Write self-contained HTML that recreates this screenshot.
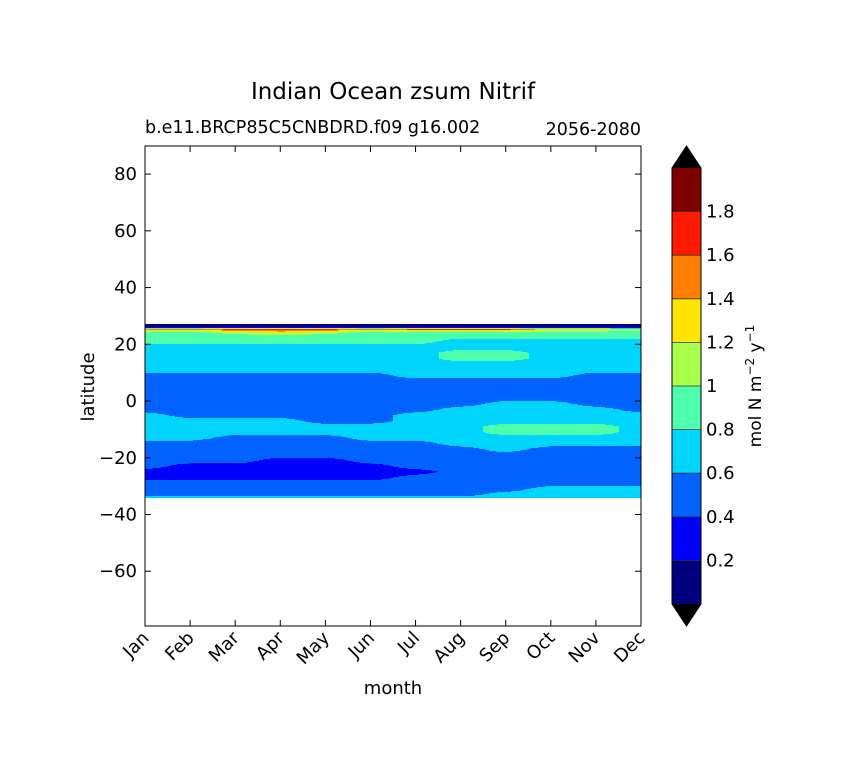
<!DOCTYPE html>
<html><head><meta charset="utf-8"><style>
html,body{margin:0;padding:0;background:#fff;}
svg text{font-family:"DejaVu Sans","Liberation Sans",sans-serif;fill:#000;}
</style></head><body>
<svg id="chart" width="848" height="773" xmlns="http://www.w3.org/2000/svg">
<rect width="848" height="773" fill="#fff"/>
<text x="393" y="99" font-size="23" text-anchor="middle">Indian Ocean zsum Nitrif</text>
<text x="145" y="133" font-size="17.5">b.e11.BRCP85C5CNBDRD.f09 g16.002</text>
<text x="641" y="135" font-size="17.5" text-anchor="end">2056-2080</text>
<g id="field"></g>
<g id="axes"></g>
<g id="cbar"></g>
<text x="393" y="694" font-size="18" text-anchor="middle">month</text>
<text x="94" y="387" font-size="18" text-anchor="middle" transform="rotate(-90 94 387)">latitude</text>
<text x="761" y="386" font-size="17" text-anchor="middle" transform="rotate(-90 761 386)">mol N m<tspan font-size="12" dy="-7">−2</tspan><tspan dy="7"> y</tspan><tspan font-size="12" dy="-7">−1</tspan></text>
</svg>
<script>
const months = ["Jan","Feb","Mar","Apr","May","Jun","Jul","Aug","Sep","Oct","Nov","Dec"];
const yTicks = [80,60,40,20,0,-20,-40,-60];
const levels = [0,0.2,0.4,0.6,0.8,1,1.2,1.4,1.6,1.8,2];
const cbarLabels = ["0.2","0.4","0.6","0.8","1","1.2","1.4","1.6","1.8"];
const levelColors = ["#00007f","#0000ff","#0063ff","#00d5ff","#4dffaa","#aaff4d","#ffe500","#ff7f00","#ff1a00","#7f0000"];
const lats = [27.2,26,25.3,24.2,23,21,19,17,15,13,11,9,7,5,3,1,-1,-3,-5,-7,-9,-11,-13,-15,-17,-19,-21,-23,-25,-27,-29,-31,-33,-34.2];
const levelRows = [
"000000000000",
"000000000000",
"778887888665",
"445654444444",
"444444444444",
"444444433333",
"333333333333",
"333333344333",
"333333344333",
"333333333333",
"333333333333",
"222222333322",
"222222222222",
"222222222222",
"222222222222",
"222222222222",
"222222223322",
"222222233332",
"322222333333",
"333322333333",
"333333334443",
"333333334443",
"332223333333",
"222222233333",
"222222223222",
"222222222222",
"222112222222",
"211111222222",
"111111122222",
"111111222222",
"222222222222",
"222222222333",
"222222223333",
"333333333333"];
const NS="http://www.w3.org/2000/svg";
const X0=145,X1=641,Y0=146,Y1=626,LATTOP=89.9,LATBOT=-79.3;
const xs=m=>X0+(X1-X0)*m/11;
const ys=l=>Y0+(LATTOP-l)*(Y1-Y0)/(LATTOP-LATBOT);
function mk(tag,attrs,parent){const e=document.createElementNS(NS,tag);for(const k in attrs)e.setAttribute(k,attrs[k]);parent.appendChild(e);return e;}
const vals=levelRows.map(r=>r.split("").map(c=>+c*0.2+0.1));
function valueAt(m,lat){
  let i=0;while(i<lats.length-2&&lat<lats[i+1])i++;
  const t=Math.min(1,Math.max(0,(lats[i]-lat)/(lats[i]-lats[i+1])));
  const j=Math.min(10,Math.max(0,Math.floor(m)));const u=Math.min(1,Math.max(0,m-j));
  const a=vals[i][j]*(1-u)+vals[i][j+1]*u, b=vals[i+1][j]*(1-u)+vals[i+1][j+1]*u;
  return a*(1-t)+b*t;
}
function levelOf(v){let k=0;while(k<levelColors.length-1&&v>=levels[k+1])k++;return k;}
const field=document.getElementById('field');
const yTop=Math.round(ys(lats[0])),yBot=Math.round(ys(lats[lats.length-1]));
const step=2;
for(let py=yTop;py<yBot;py++){
  const lat=LATTOP-(py+0.5-Y0)*(LATTOP-LATBOT)/(Y1-Y0);
  let start=X0,cur=-1;
  for(let px=X0;px<=X1;px+=step){
    const k=px>=X1?-2:levelOf(valueAt((px+step/2-X0)/(X1-X0)*11,lat));
    if(k!==cur){
      if(cur>=0){const r=mk('rect',{x:start,y:py,width:px-start,height:1.05,fill:levelColors[cur]},field);
        
        }
      start=px;cur=k;
    }
  }
}
const axes=document.getElementById('axes');
mk('rect',{x:X0,y:Y0,width:X1-X0,height:Y1-Y0,fill:'none',stroke:'#000','stroke-width':1},axes);
yTicks.forEach(v=>{const y=ys(v);
  mk('line',{x1:X0,x2:X0+6,y1:y,y2:y,stroke:'#000'},axes);
  mk('line',{x1:X1-6,x2:X1,y1:y,y2:y,stroke:'#000'},axes);
  const t=mk('text',{x:X0-8,y:y+6,'font-size':18,'text-anchor':'end'},axes);t.textContent=v<0?'−'+(-v):v;
  
  
});
months.forEach((mo,i)=>{const x=xs(i);
  mk('line',{x1:x,x2:x,y1:Y1,y2:Y1-6,stroke:'#000'},axes);
  mk('line',{x1:x,x2:x,y1:Y0,y2:Y0+6,stroke:'#000'},axes);
  const t=mk('text',{x:x+5,y:Y1+13,'font-size':18,'text-anchor':'end',transform:`rotate(-45 ${x+5} ${Y1+13})`},axes);t.textContent=mo;
  
  
});
const cb=document.getElementById('cbar');
const CX0=672,CX1=701,CT=168,CB=604;
const cy=v=>CB-(v-levels[0])*(CB-CT)/(levels[levels.length-1]-levels[0]);
levelColors.forEach((c,k)=>{const r=mk('rect',{x:CX0,y:cy(levels[k+1]),width:CX1-CX0,height:cy(levels[k])-cy(levels[k+1]),fill:c},cb);
  
  
  if(k>0)mk('line',{x1:CX0,x2:CX1,y1:cy(levels[k]),y2:cy(levels[k]),stroke:'#333','stroke-width':0.8},cb);
});
mk('polygon',{points:`${CX0},${CT} ${CX1},${CT} ${(CX0+CX1)/2},146`,fill:'#000'},cb);
mk('polygon',{points:`${CX0},${CB} ${CX1},${CB} ${(CX0+CX1)/2},626`,fill:'#000'},cb);
mk('polygon',{points:`${CX0},${CT} ${(CX0+CX1)/2},146 ${CX1},${CT} ${CX1},${CB} ${(CX0+CX1)/2},626 ${CX0},${CB}`,fill:'none',stroke:'#000'},cb);
cbarLabels.forEach((s,k)=>{const y=cy(levels[k+1]);
  const t=mk('text',{x:706,y:y+6,'font-size':18},cb);t.textContent=s;
  
  
});
</script>
</body></html>
